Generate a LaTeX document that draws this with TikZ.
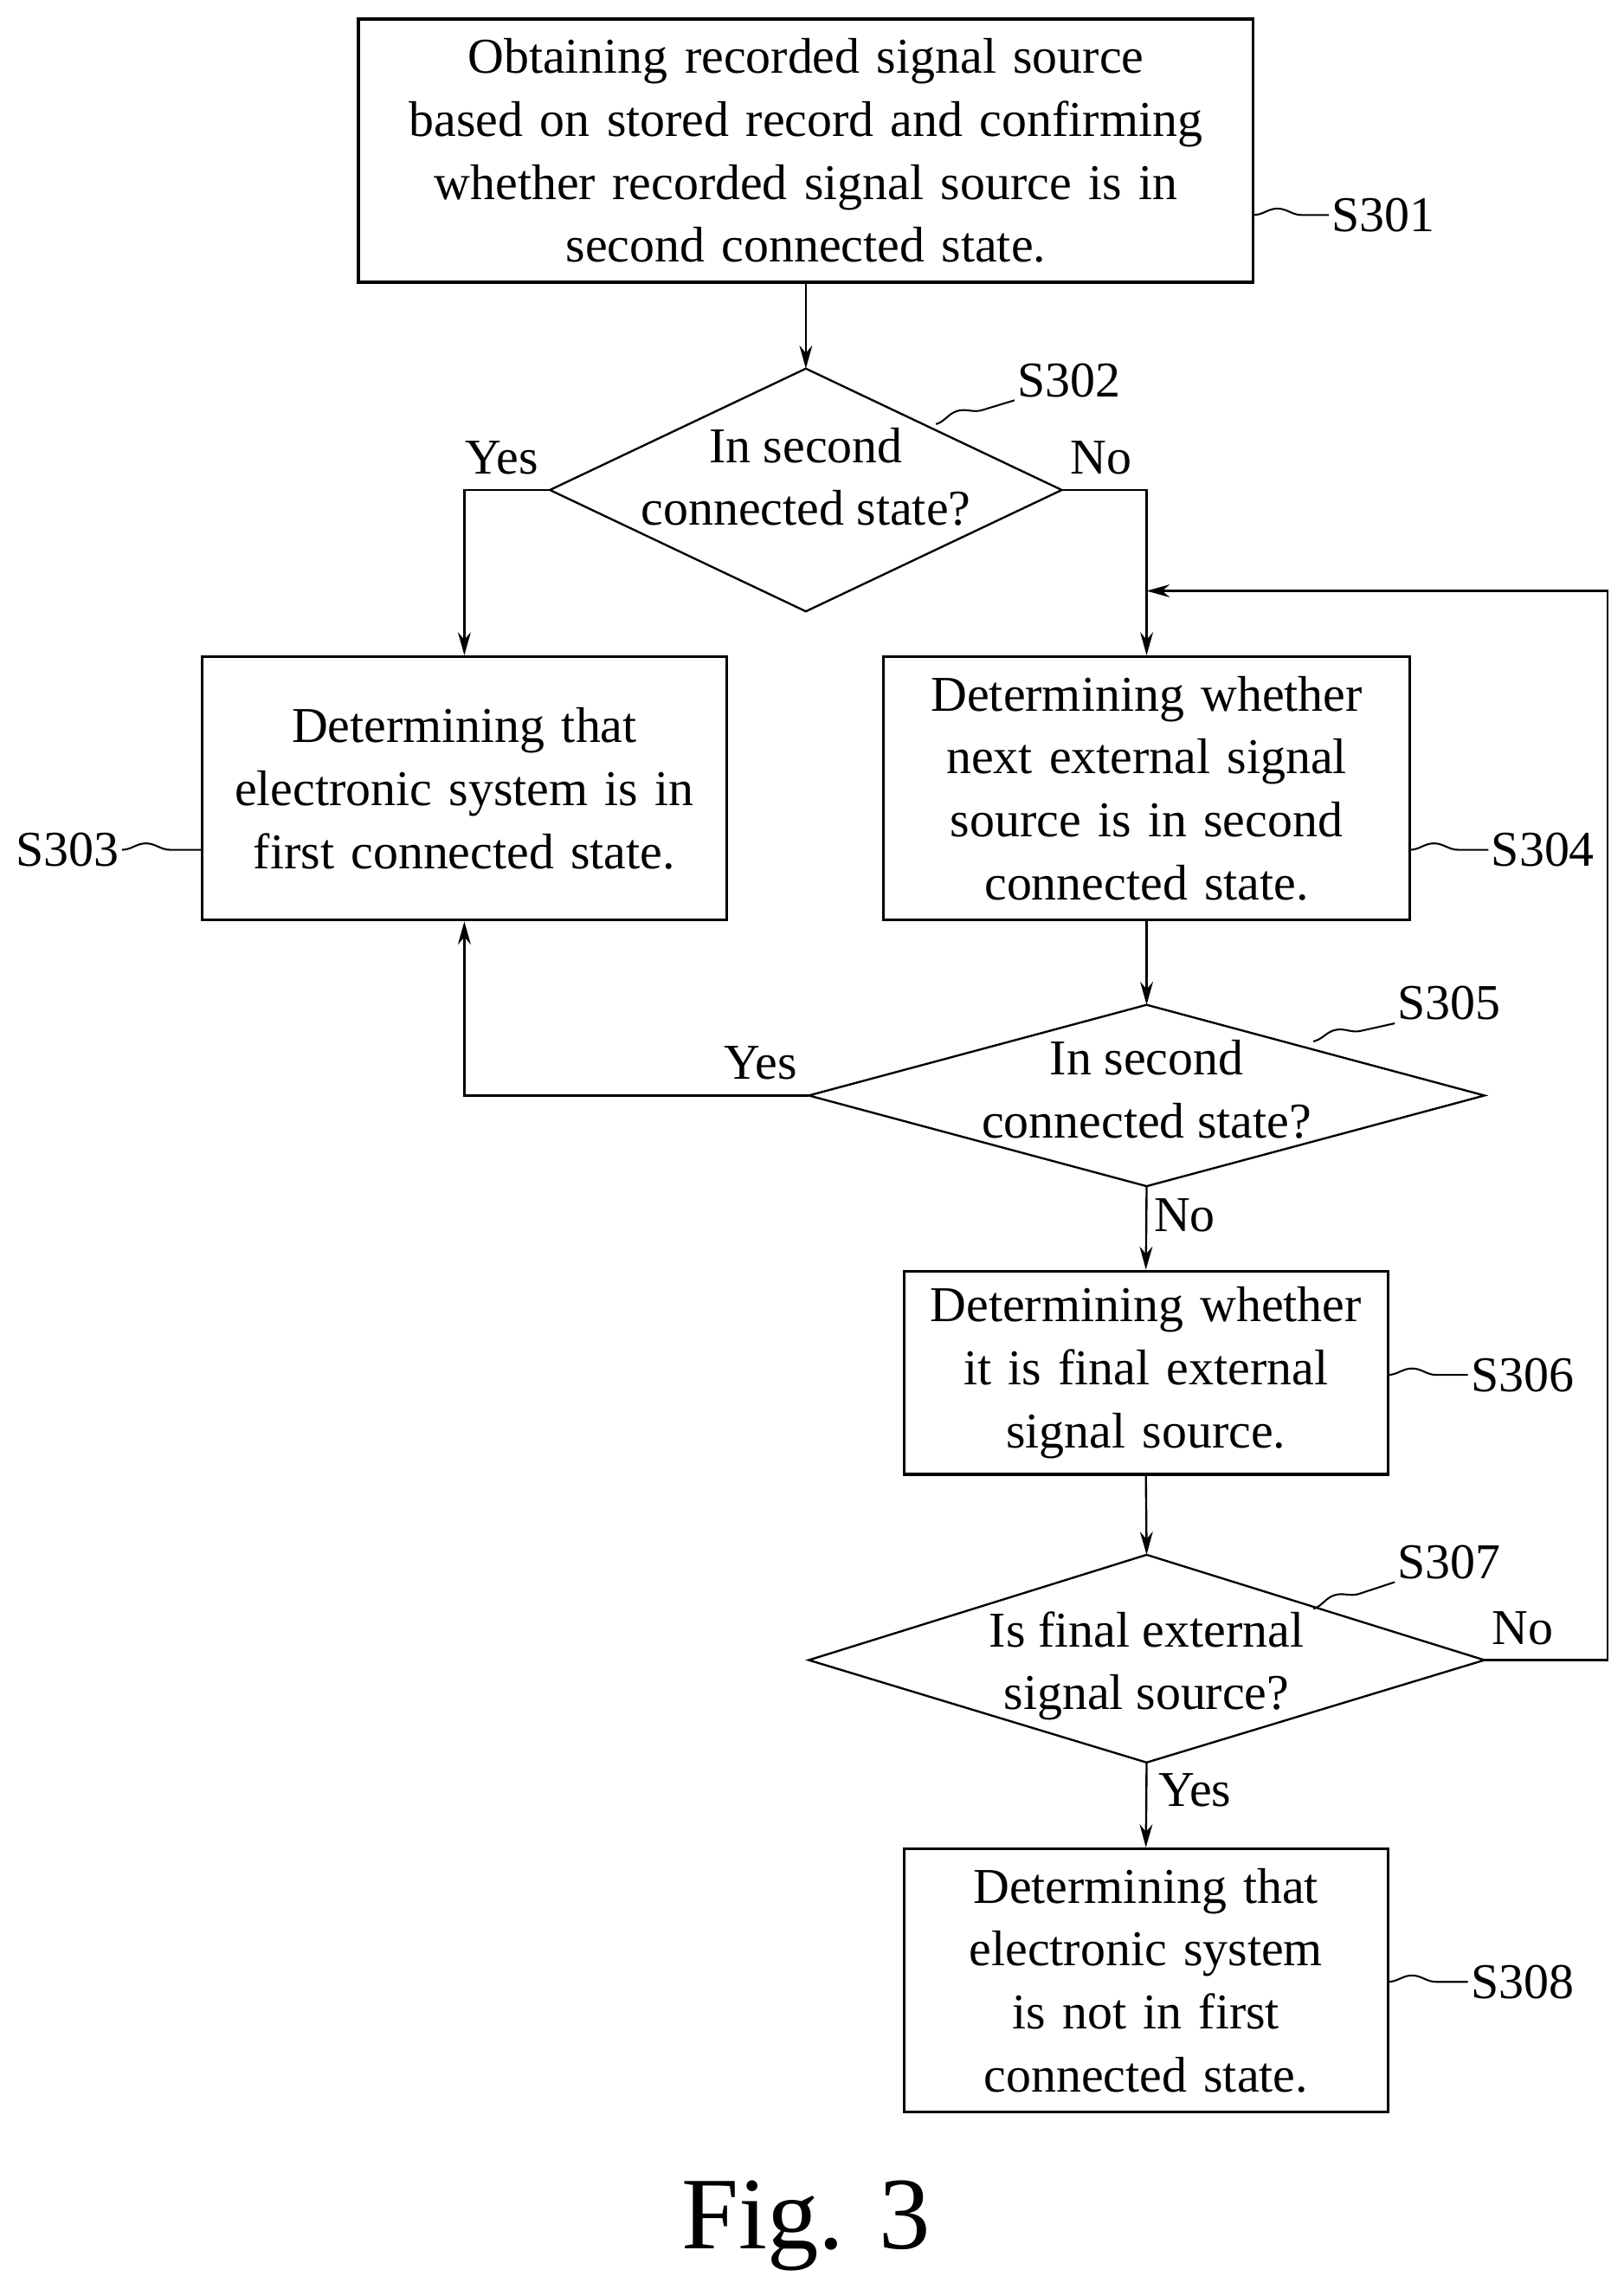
\documentclass[tikz,border=0pt]{standalone}
\usepackage{fontspec}
\setmainfont{Liberation Serif}
\usetikzlibrary{shapes.geometric,decorations.pathmorphing,calc,arrows.meta}
\begin{document}
\begin{tikzpicture}[x=0.02cm,y=-0.02cm,
  every node/.style={font=\fontsize{19.5}{24.5}\selectfont},
  box/.style={draw,line width=1.1pt,align=center,inner sep=0pt},
  ln/.style={line width=0.8pt},
  ar/.style={ln,-{Stealth[length=9pt,width=5pt]}},
  sq/.style={line width=0.7pt,decorate,decoration={snake,segment length=30pt,amplitude=2.5pt}},
  lab/.style={inner sep=1pt}]
\useasboundingbox (0,0) rectangle (1110,1565);
\node[box,minimum width=12.24cm,minimum height=3.6cm,text width=11.5cm] (s301) at (551,103)
 {Obtaining recorded signal source\\based on stored record and confirming\\whether recorded signal source is in\\second connected state.};
\draw[ln] (376,335) coordinate (d2l) -- (551,252) coordinate (d2t) -- (726,335) coordinate (d2r) -- (551,418) coordinate (d2b) -- cycle;
\node (s302t) at (551,326) [align=center] {In second\\connected state?};
\node[box,minimum width=7.18cm,minimum height=3.6cm,text width=7cm] (s303) at (317.5,539)
 {Determining that\\electronic system is in\\first connected state.};
\node[box,minimum width=7.2cm,minimum height=3.6cm,text width=7cm] (s304) at (784,539)
 {Determining whether\\next external signal\\source is in second\\connected state.};
\draw[ln] (553,749) coordinate (d5l) -- (784,687) coordinate (d5t) -- (1015,749) coordinate (d5r) -- (784,811) coordinate (d5b) -- cycle;
\node (s305t) at (784,745) [align=center] {In second\\connected state?};
\node[box,minimum width=6.62cm,minimum height=2.78cm,text width=6.4cm] (s306) at (783.5,938.5)
 {Determining whether\\it is final external\\signal source.};
\draw[ln] (553,1135) coordinate (d7l) -- (784,1063) coordinate (d7t) -- (1015,1135) coordinate (d7r) -- (784,1205) coordinate (d7b) -- cycle;
\node (s307t) at (784,1139) [align=center] {Is final external\\signal source?};
\node[box,minimum width=6.62cm,minimum height=3.6cm,text width=6.4cm] (s308) at (783.5,1354)
 {Determining that\\electronic system\\is not in first\\connected state.};
\node (fig) at (551,1522) {\fontsize{40}{48}\selectfont Fig. 3};
% arrows
\draw[ar] (s301.south) -- (d2t);
\draw[ar] (d2l) -| (s303.north);
\draw[ar] (d2r) -| (s304.north);
\draw[ar] (s304.south) -- (d5t);
\draw[ar] (d5l) -| (s303.south);
\draw[ar] (d5b) -- (s306.north);
\draw[ar] (s306.south) -- (d7t);
\draw[ar] (d7b) -- (s308.north);
\coordinate (lp1) at (1099,1135); \coordinate (lp2) at (1099,404); \coordinate (lp3) at (784,404);
\draw[ar] (d7r) -- (lp1) -- (lp2) -- (lp3);
% branch labels
\node[lab] (y1) at (343,313) {Yes};
\node[lab] (n1) at (753,313) {No};
\node[lab] (y2) at (520,727) {Yes};
\node[lab] (n2) at (810,831) {No};
\node[lab] (n3) at (1041,1113) {No};
\node[lab] (y3) at (817,1224) {Yes};
% step labels
\node[lab] (l301) at (946,147) {S301};
\node[lab] (l302) at (731,260) {S302};
\node[lab] (l303) at (46,581) {S303};
\node[lab] (l304) at (1055,581) {S304};
\node[lab] (l305) at (991,686) {S305};
\node[lab] (l306) at (1041,940) {S306};
\node[lab] (l307) at (991,1068) {S307};
\node[lab] (l308) at (1041,1355) {S308};
\draw[sq] (857,147) -- (l301.west);
\draw[sq] (640,290) -- (l302.south west);
\draw[sq] (l303.east) -- (138,581);
\draw[sq] (964,581) -- (l304.west);
\draw[sq] (898,712) -- (l305.south west);
\draw[sq] (949,940) -- (l306.west);
\draw[sq] (898,1100) -- (l307.south west);
\draw[sq] (949,1355) -- (l308.west);
\end{tikzpicture}
\end{document}
